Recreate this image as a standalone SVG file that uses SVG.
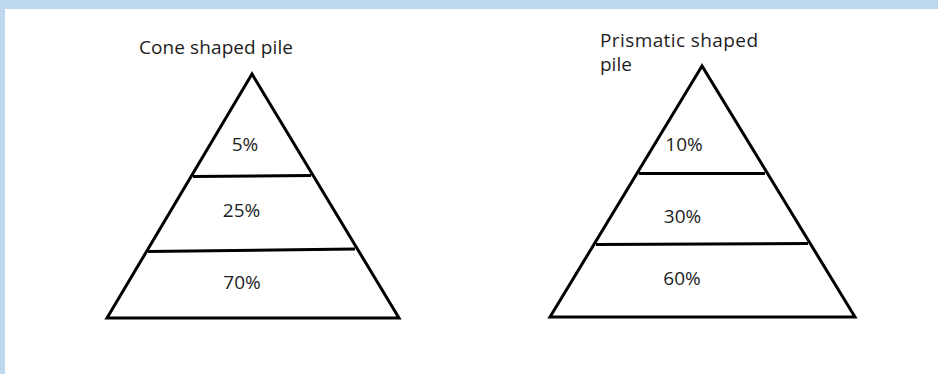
<svg xmlns="http://www.w3.org/2000/svg" width="938" height="374" viewBox="0 0 938 374">
<style>
.t{font-family:"Open Sans","Noto Sans","Liberation Sans",sans-serif;font-size:19px;fill:#1e1e1e}
.c{text-anchor:middle}
.s{fill:none;stroke:#000;stroke-width:3;stroke-linejoin:miter}
</style>
<rect x="0" y="0" width="938" height="374" fill="#bdd7ee"/>
<rect x="5" y="9" width="933" height="365" fill="#fff"/>
<g id="cone">
<text class="t" x="139" y="54" textLength="154">Cone shaped pile</text>
<polygon class="s" points="252,74 107,318 399,318"/>
<line class="s" x1="193" y1="176.5" x2="311" y2="175.5"/>
<line class="s" x1="148" y1="251.5" x2="355" y2="249"/>
<text class="t c" x="245" y="151">5%</text>
<text class="t c" x="241.5" y="217">25%</text>
<text class="t c" x="242" y="289">70%</text>
</g>
<g id="prism">
<text class="t" x="600" y="47" font-size="18" textLength="158">Prismatic shaped</text>
<text class="t" x="600" y="71" font-size="18">pile</text>
<polygon class="s" points="702,66 550,317 855,317"/>
<line class="s" x1="639" y1="173.5" x2="765" y2="173.5"/>
<line class="s" x1="596" y1="244.5" x2="808" y2="243.5"/>
<text class="t c" x="684" y="151">10%</text>
<text class="t c" x="682.5" y="223">30%</text>
<text class="t c" x="682" y="285">60%</text>
</g>
<g id="connectors"/>
</svg>
